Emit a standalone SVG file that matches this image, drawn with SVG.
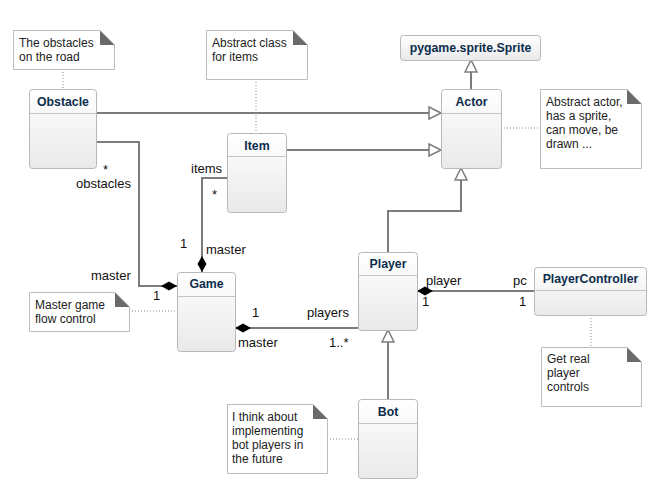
<svg xmlns="http://www.w3.org/2000/svg" width="661" height="501" viewBox="0 0 661 501">
<style>
.cls{fill:url(#g);stroke:#b8b8b8;stroke-width:1}
.hd{stroke:#c4c4c4;stroke-width:1}
.cn{font-family:"Liberation Sans",Arial,sans-serif;font-weight:bold;font-size:12.3px;fill:#0d2d4d;text-anchor:middle}
.note{fill:#fff;stroke:#bcbcbc;stroke-width:1}
.fold{fill:#6a6a6a}
.nt{font-family:"Liberation Sans",Arial,sans-serif;font-size:12px;fill:#222}
.lb{font-family:"Liberation Sans",Arial,sans-serif;font-size:13px;fill:#111}
.ln{fill:none;stroke:#7c7c7c;stroke-width:2}
.dot{fill:none;stroke:#8a8a8a;stroke-width:1;stroke-dasharray:1,2}
</style>
<defs>
<linearGradient id="g" x1="0" y1="0" x2="0" y2="1">
<stop offset="0" stop-color="#ffffff"/>
<stop offset="1" stop-color="#e9e9e9"/>
</linearGradient>
<marker id="tri" markerUnits="userSpaceOnUse" markerWidth="14" markerHeight="14" refX="12" refY="6" orient="auto" overflow="visible">
<path d="M0,0 L12,6 L0,12 z" fill="#fff" stroke="#7c7c7c" stroke-width="1.5"/>
</marker>
<marker id="dia" markerUnits="userSpaceOnUse" markerWidth="16" markerHeight="10" refX="0" refY="5" orient="auto" overflow="visible">
<path d="M0,5 L8,0.5 L16,5 L8,9.5 z" fill="#000"/>
</marker>
</defs>

<g id="connectors">
<path class="ln" d="M96,113 H441" marker-end="url(#tri)"/>
<path class="ln" d="M286,150 H441" marker-end="url(#tri)"/>
<path class="ln" d="M471,89 V60" marker-end="url(#tri)"/>
<path class="ln" d="M388,252 V211 H461 V168" marker-end="url(#tri)"/>
<path class="ln" d="M388,399 V330" marker-end="url(#tri)"/>
<path class="ln" d="M177,286 H139 V142 H96" marker-start="url(#dia)"/>
<path class="ln" d="M202,272 V178 H227" marker-start="url(#dia)"/>
<path class="ln" d="M235,328 H358" marker-start="url(#dia)"/>
<path class="ln" d="M417,291 H534" marker-start="url(#dia)"/>
<path class="dot" d="M63,69 V89"/>
<path class="dot" d="M256,79 V133"/>
<path class="dot" d="M501,128 H540"/>
<path class="dot" d="M129,311 H177"/>
<path class="dot" d="M591,315 V347"/>
<path class="dot" d="M327,439 H358"/>
<text class="lb" x="103" y="174">*</text>
<text class="lb" x="76" y="188">obstacles</text>
<text class="lb" x="191" y="173">items</text>
<text class="lb" x="212" y="199">*</text>
<text class="lb" x="180" y="248">1</text>
<text class="lb" x="206" y="254">master</text>
<text class="lb" x="91" y="280">master</text>
<text class="lb" x="153" y="300">1</text>
<text class="lb" x="252" y="317">1</text>
<text class="lb" x="307" y="317">players</text>
<text class="lb" x="238" y="347">master</text>
<text class="lb" x="329" y="347">1..*</text>
<text class="lb" x="426" y="285">player</text>
<text class="lb" x="513" y="285">pc</text>
<text class="lb" x="422" y="306">1</text>
<text class="lb" x="519" y="306">1</text>
</g>

<g id="note-obstacles">
<path class="note" d="M13.5,30.5 H100 L114.5,45 V69.5 H13.5 z"/>
<path class="fold" d="M100,30.5 L114.5,45 H100 z"/>
<text class="nt" x="19" y="47">The obstacles</text>
<text class="nt" x="19" y="61">on the road</text>
</g>
<g id="note-item">
<path class="note" d="M206.5,30.5 H293 L307.5,45 V79.5 H206.5 z"/>
<path class="fold" d="M293,30.5 L307.5,45 H293 z"/>
<text class="nt" x="212" y="47">Abstract class</text>
<text class="nt" x="212" y="61">for items</text>
</g>
<g id="note-actor">
<path class="note" d="M540.5,89.5 H627 L641.5,104 V168.5 H540.5 z"/>
<path class="fold" d="M627,89.5 L641.5,104 H627 z"/>
<text class="nt" x="546" y="106">Abstract actor,</text>
<text class="nt" x="546" y="120">has a sprite,</text>
<text class="nt" x="546" y="134">can move, be</text>
<text class="nt" x="546" y="148">drawn ...</text>
</g>
<g id="note-game">
<path class="note" d="M29.5,292.5 H115 L129.5,307 V331.5 H29.5 z"/>
<path class="fold" d="M115,292.5 L129.5,307 H115 z"/>
<text class="nt" x="35" y="309">Master game</text>
<text class="nt" x="35" y="323">flow control</text>
</g>
<g id="note-pc">
<path class="note" d="M541.5,347.5 H627 L641.5,362 V406.5 H541.5 z"/>
<path class="fold" d="M627,347.5 L641.5,362 H627 z"/>
<text class="nt" x="547" y="363">Get real</text>
<text class="nt" x="547" y="377">player</text>
<text class="nt" x="547" y="391">controls</text>
</g>
<g id="note-bot">
<path class="note" d="M227.5,404.5 H313 L327.5,419 V473.5 H227.5 z"/>
<path class="fold" d="M313,404.5 L327.5,419 H313 z"/>
<text class="nt" x="232" y="421">I think about</text>
<text class="nt" x="232" y="435">implementing</text>
<text class="nt" x="232" y="449">bot players in</text>
<text class="nt" x="232" y="463">the future</text>
</g>

<g id="Obstacle">
<rect class="cls" x="29.5" y="89.5" width="67" height="79" rx="3"/>
<line class="hd" x1="30" y1="113.5" x2="96" y2="113.5"/>
<text class="cn" x="63" y="106">Obstacle</text>
</g>
<g id="Item">
<rect class="cls" x="227.5" y="133.5" width="59" height="79" rx="3"/>
<line class="hd" x1="228" y1="156.5" x2="286" y2="156.5"/>
<text class="cn" x="257" y="150">Item</text>
</g>
<g id="Sprite">
<rect class="cls" x="400.5" y="35.5" width="140" height="25" rx="3"/>
<text class="cn" x="470.5" y="52">pygame.sprite.Sprite</text>
</g>
<g id="Actor">
<rect class="cls" x="441.5" y="89.5" width="60" height="79" rx="3"/>
<line class="hd" x1="442" y1="113.5" x2="501" y2="113.5"/>
<text class="cn" x="471.5" y="106">Actor</text>
</g>
<g id="Game">
<rect class="cls" x="177.5" y="272.5" width="58" height="79" rx="3"/>
<line class="hd" x1="178" y1="296.5" x2="235" y2="296.5"/>
<text class="cn" x="206.5" y="288">Game</text>
</g>
<g id="Player">
<rect class="cls" x="358.5" y="252.5" width="59" height="78" rx="3"/>
<line class="hd" x1="359" y1="275.5" x2="417" y2="275.5"/>
<text class="cn" x="388" y="268">Player</text>
</g>
<g id="PlayerController">
<rect class="cls" x="534.5" y="267.5" width="112" height="48" rx="3"/>
<line class="hd" x1="535" y1="290.5" x2="646" y2="290.5"/>
<text class="cn" x="590.5" y="283">PlayerController</text>
</g>
<g id="Bot">
<rect class="cls" x="358.5" y="399.5" width="59" height="79" rx="3"/>
<line class="hd" x1="359" y1="423.5" x2="417" y2="423.5"/>
<text class="cn" x="388" y="416">Bot</text>
</g>
</svg>
